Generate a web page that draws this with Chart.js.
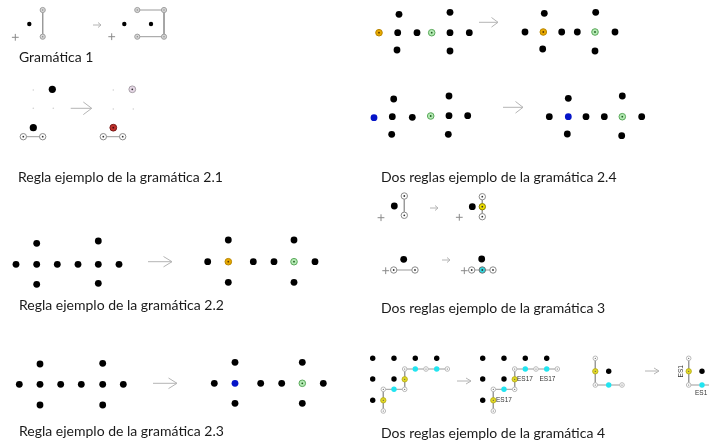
<!DOCTYPE html>
<html>
<head>
<meta charset="utf-8">
<script src="https://cdn.jsdelivr.net/npm/chart.js@4/dist/chart.umd.min.js"></script>
<style>
  html, body { margin: 0; padding: 0; background: #fff; }
  #board { display: block; }
</style>
</head>
<body>
<canvas id="board" width="709" height="445"></canvas>
<script>
// --- diagram values (x, y in page units) ---

// Gramática 1
const g1Dots = [[29.3, 24], [124.3, 24], [151, 24]];
const g1Nodes = [[42.7, 10], [42.7, 36.7], [137.3, 10], [164, 10], [137.3, 36.7], [164, 36.7]];
const g1Plus = [[15.3, 37.3], [111.7, 36.7]];
const g1Lines = [
  [[42.7, 10], [42.7, 36.7]],
  [[137.3, 10], [164, 10], [164, 36.7], [137.3, 36.7]]
];

// Regla 2.1
const r21Dots = [[52.3, 89.3], [33.3, 127.7]];
const r21Faint = [[33.3, 90], [33.3, 108.3], [53.3, 108.3], [113.3, 90], [113.3, 109], [133.3, 109]];
const r21Nodes = [[23.3, 136.7], [42.7, 136.7], [103.3, 136.7], [122.7, 136.7]];
const r21Lilac = [[132.3, 89.3]];
const r21Red = [[113.3, 127.7]];
const r21Lines = [
  [[23.3, 136.7], [42.7, 136.7]],
  [[103.3, 136.7], [122.7, 136.7]]
];

// Regla 2.2 and 2.3 (same cross pattern)
const r22Dots = [[16, 264.3], [36.7, 264.3], [57.3, 264.3], [78, 264.3], [98.3, 264.3], [119, 264.3],
  [36.7, 243.3], [98.3, 241], [36.7, 284.3], [98.3, 283.3],
  [207.7, 261.7], [253.3, 261.7], [274, 261.7], [315, 261.7],
  [228.3, 240], [294, 240], [228.3, 282.3], [294, 282.3]];
const r22Orange = [[228.3, 261.7]];
const r22Green = [[294, 261.7]];

const r23Dots = [[19.3, 384.3], [40, 384.3], [60.7, 384.3], [81.3, 384.3], [102.7, 384.3], [123.3, 384.3],
  [40, 364], [102.7, 363.3], [40, 405], [102.7, 405],
  [214.3, 383.3], [260.7, 383.3], [281.7, 383.3], [323.3, 383.3],
  [235, 362.3], [302.3, 362.3], [235, 403.3], [302.3, 403.3]];
const r23Blue = [[235, 383.3]];
const r23Green = [[302.3, 383.3]];

// Dos reglas 2.4
const r24Dots = [[397.7, 32.7], [417, 32.7], [450, 32.7], [469.3, 32.7],
  [399, 14.3], [450, 12.3], [397, 50], [450, 51],
  [525, 32], [561.7, 32], [577.3, 32], [615, 32],
  [544.3, 13.3], [595.7, 12.3], [542.7, 49], [595, 51],
  [392.3, 116.7], [412.3, 117.3], [449, 115.7], [467.7, 115.7],
  [393.7, 99], [449, 96], [391.7, 134.3], [448.3, 134.3],
  [549.3, 116.7], [586, 116.7], [604.3, 116.7], [641.7, 116.7],
  [568.3, 98.3], [622.3, 96], [567.3, 134], [621.7, 135.7]];
const r24Orange = [[379, 32.7], [543.3, 32]];
const r24Green = [[431.7, 32.7], [595, 32], [430.7, 116], [622.3, 116.7]];
const r24Blue = [[374, 117.7], [568.3, 116.7]];

// Dos reglas 3
const g3Dots = [[394.3, 206], [472.3, 206.7], [403.7, 259.3], [481.7, 259]];
const g3Nodes = [[404.3, 196], [404.3, 215.3], [482.3, 196.7], [482.3, 216.7],
  [393.7, 270], [415, 270], [471.7, 270], [493, 270]];
const g3Plus = [[381, 217.7], [459.3, 217.3], [385.7, 270.7], [464.3, 270.7]];
const g3Yellow = [[482.3, 206.7]];
const g3Cyan = [[482.3, 270]];
const g3Lines = [
  [[404.3, 196], [404.3, 215.3]],
  [[482.3, 196.7], [482.3, 216.7]],
  [[393.7, 270], [415, 270]],
  [[471.7, 270], [493, 270]]
];

// Dos reglas 4
const g4Dots = [[372.7, 358.3], [394, 358.3], [415.3, 358.3], [436.7, 358.3], [372.7, 379], [394, 379], [372.7, 400.3],
  [482.7, 358.3], [504, 358.3], [525.3, 358.3], [546.7, 358.3], [482.7, 379], [504, 379], [482.7, 400.3],
  [608.7, 371.3], [702, 371.3]];
const g4Nodes = [[404.7, 369], [426, 369], [447.3, 369], [404.7, 389.3], [383.3, 389.3], [383.3, 411],
  [514.7, 369], [536, 369], [557.3, 369], [514.7, 389.3], [493.3, 389.3], [493.3, 411],
  [595.3, 358.3], [595.3, 385], [622, 385], [688.7, 358.3], [688.7, 385], [715.4, 385]];
const g4Cyan = [[415.3, 369], [436.7, 369], [394, 389.3], [525.3, 369], [546.7, 369], [504, 389.3],
  [608.7, 385], [702, 385]];
const g4Yellow = [[404.7, 379.3], [383.3, 400.3], [514.7, 379.3], [493.3, 400.3], [595.3, 371.3], [688.7, 371.3]];
const g4Lines = [
  [[404.7, 369], [447.3, 369]],
  [[404.7, 369], [404.7, 389.3], [383.3, 389.3], [383.3, 411]],
  [[514.7, 369], [557.3, 369]],
  [[514.7, 369], [514.7, 389.3], [493.3, 389.3], [493.3, 411]],
  [[595.3, 358.3], [595.3, 385], [622, 385]],
  [[688.7, 358.3], [688.7, 385], [715.4, 385]]
];

// arrows: shaft start, tip, upper end of the open head
const arrows = [
  [[70.7, 108.3], [91.7, 108.3], [83.3, 102]],
  [[148, 261.7], [172, 261.7], [163.5, 256.5]],
  [[153, 383.3], [177, 383.3], [168.5, 378]],
  [[479, 22.3], [498, 22.3], [491.5, 17.5]],
  [[503, 107.3], [523, 107.3], [515.5, 101.5]],
  [[457, 381], [471, 381], [466, 378]],
  [[645, 371], [659, 371], [654, 368]],
  [[93, 25], [101, 25], [98, 22.5]],
  [[430, 208], [438, 208], [435, 205.5]],
  [[442, 260], [450, 260], [447, 257.5]]
];

// captions
const captions = [
  ["Gramática 1", 19, 57],
  ["Regla ejemplo de la gramática 2.1", 18, 177],
  ["Dos reglas ejemplo de la gramática 2.4", 381, 177],
  ["Regla ejemplo de la gramática 2.2", 19, 305],
  ["Dos reglas ejemplo de la gramática 3", 381, 308],
  ["Regla ejemplo de la gramática 2.3", 19, 431],
  ["Dos reglas ejemplo de la gramática 4", 381, 433]
];
const tags = [
  ["ES17", 517, 379.3, 0],
  ["ES17", 539.5, 379.3, 0],
  ["ES17", 496, 400.3, 0],
  ["ES1", 681, 371.3, -90],
  ["ES1", 695, 393.5, 0]
];

// --- helpers ---
const pts = a => a.map(([x, y]) => ({ x, y }));

function dots(a, r, fill, border, bw, order) {
  return {
    data: pts(a), pointRadius: r, pointBackgroundColor: fill,
    pointBorderColor: border || fill, pointBorderWidth: bw || 0,
    showLine: false, order: order, clip: false
  };
}

function lineSet(seg, color, order) {
  return {
    data: pts(seg), showLine: true, borderColor: color, borderWidth: 1,
    pointRadius: 0, fill: false, order: order
  };
}

const datasets = [];
g1Lines.concat(r21Lines, g3Lines, g4Lines).forEach(s => datasets.push(lineSet(s, '#9a9a9a', 20)));
arrows.forEach(a => {
  const [s, e, h] = a;
  datasets.push(lineSet([s, e], '#b4b4b4', 20));
  datasets.push(lineSet([h, e, [h[0], 2 * e[1] - h[1]]], '#b4b4b4', 20));
});

// black dots
datasets.push(dots(g1Dots, 2.2, '#000', null, 0, 5));
datasets.push(dots(r21Dots, 3.6, '#000', null, 0, 5));
datasets.push(dots(r22Dots.concat(r23Dots, r24Dots), 3.4, '#000', null, 0, 5));
datasets.push(dots(g3Dots, 3.4, '#000', null, 0, 5));
datasets.push(dots(g4Dots, 2.7, '#000', null, 0, 5));
datasets.push(dots(r21Faint, 0.8, '#d0d0d0', null, 0, 5));

// circled nodes
datasets.push(dots(g1Nodes, 2.6, '#d6d6d6', '#a0a0a0', 1, 5));
datasets.push(dots(r21Nodes.concat(g3Nodes), 3.2, '#ffffff', '#8a8a8a', 1, 5));
datasets.push(dots(g4Nodes, 2.3, '#ffffff', '#b8b8b8', 1, 5));
datasets.push(dots(r21Lilac, 3.4, '#e6d8e6', '#a8a0a8', 1, 5));
datasets.push(dots(r21Red, 3.4, '#c0302c', '#7a1a18', 1, 5));

// colored nodes
datasets.push(dots(r22Orange.concat(r24Orange), 3.3, '#e8a900', '#b88600', 1, 5));
datasets.push(dots(r22Green.concat(r23Green, r24Green), 3.3, '#b4eab4', '#5aa85a', 1, 5));
datasets.push(dots(r23Blue.concat(r24Blue), 3.4, '#0514c8', null, 0, 5));
datasets.push(dots(g3Yellow, 3.2, '#f0e000', '#8a8000', 1, 5));
datasets.push(dots(g3Cyan, 3.2, '#30d8e0', '#707070', 1, 5));
datasets.push(dots(g4Yellow, 2.7, '#e2d826', '#b0a818', 0.8, 5));
datasets.push(dots(g4Cyan, 2.7, '#22e4f0', '#22e4f0', 0, 5));

// center marks of the circled nodes
datasets.push(dots(g1Nodes, 0.7, '#888', null, 0, 1));
datasets.push(dots(r21Nodes.concat(g3Nodes, r21Lilac, g3Yellow, g3Cyan), 0.9, '#333', null, 0, 1));
datasets.push(dots(g4Nodes.concat(g4Yellow), 0.6, '#555', null, 0, 1));
datasets.push(dots(r22Orange.concat(r24Orange), 0.9, '#5a3a00', null, 0, 1));
datasets.push(dots(r22Green.concat(r23Green, r24Green), 0.9, '#205a20', null, 0, 1));
datasets.push(dots(r21Red, 0.9, '#4a0a0a', null, 0, 1));

// plus marks
datasets.push({
  data: pts(g1Plus.concat(g3Plus)), pointStyle: 'cross', pointRadius: 3.4,
  pointBorderColor: '#8a8a8a', pointBorderWidth: 1, showLine: false, order: 5, clip: false
});

const captionPlugin = {
  id: 'captions',
  afterDatasetsDraw(chart) {
    const { ctx, scales: { x, y } } = chart;
    ctx.save();
    ctx.textBaseline = 'middle';
    ctx.textAlign = 'left';
    ctx.fillStyle = '#1a1a1a';
    ctx.font = '14px Lato, "Open Sans", sans-serif';
    captions.forEach(([t, cx, cy]) => ctx.fillText(t, x.getPixelForValue(cx), y.getPixelForValue(cy)));
    ctx.fillStyle = '#333';
    ctx.font = '6.5px "Liberation Sans", Arial, sans-serif';
    tags.forEach(([t, cx, cy, rot]) => {
      ctx.save();
      ctx.translate(x.getPixelForValue(cx), y.getPixelForValue(cy));
      if (rot) { ctx.rotate(rot * Math.PI / 180); ctx.textAlign = 'center'; }
      ctx.fillText(t, 0, 0);
      ctx.restore();
    });
    ctx.restore();
  }
};

new Chart(document.getElementById('board'), {
  type: 'scatter',
  data: { datasets },
  options: {
    responsive: false,
    animation: false,
    events: [],
    layout: { padding: 0, autoPadding: false },
    plugins: { legend: { display: false }, tooltip: { enabled: false } },
    scales: {
      x: { type: 'linear', min: 0, max: 709, display: false },
      y: { type: 'linear', min: 0, max: 445, reverse: true, display: false }
    }
  },
  plugins: [captionPlugin]
});
</script>
</body>
</html>
